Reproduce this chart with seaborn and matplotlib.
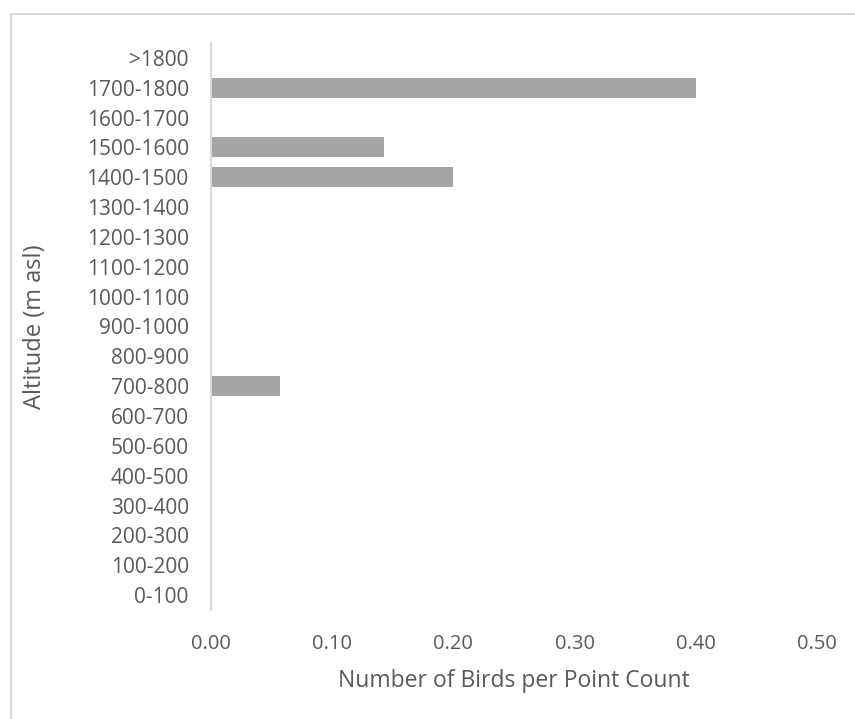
import matplotlib
matplotlib.use("Agg")
import matplotlib.pyplot as plt
import seaborn as sns
import pandas as pd

# altitude bands, bottom to top as drawn
altitude = ['0-100', '100-200', '200-300', '300-400', '400-500', '500-600',
            '600-700', '700-800', '800-900', '900-1000', '1000-1100',
            '1100-1200', '1200-1300', '1300-1400', '1400-1500', '1500-1600',
            '1600-1700', '1700-1800', '>1800']
birds = [0, 0, 0, 0, 0, 0, 0, 0.057, 0, 0, 0, 0, 0, 0, 0.20, 0.143, 0, 0.40, 0]
xticks = [0.0, 0.1, 0.2, 0.3, 0.4, 0.5]

# seaborn puts the first category at the top, so reverse
df = pd.DataFrame({'Altitude': altitude[::-1], 'Birds': birds[::-1]})

sns.set_style("white")
plt.rcParams['font.family'] = ['Open Sans', 'DejaVu Sans']
text_col = '#595959'

fig = plt.figure(figsize=(8.55, 7.19), dpi=100)
ax = fig.add_axes([211 / 855, 1 - 610 / 719, 606 / 855, 567 / 719])

sns.barplot(data=df, x='Birds', y='Altitude', color='#A5A5A5',
            saturation=1, width=0.67, ax=ax, edgecolor='none')

ax.set_xlim(0, 0.5)
ax.set_ylim(len(altitude) - 0.5, -0.5)
ax.set_xticks(xticks)
ax.set_xticklabels([f'{v:.2f}' for v in xticks])
ax.tick_params(axis='y', length=0, labelsize=15, colors=text_col, pad=16)
ax.tick_params(axis='x', length=0, labelsize=14.5, colors=text_col, pad=17)

for s in ['top', 'right', 'bottom']:
    ax.spines[s].set_visible(False)
ax.spines['left'].set_color('#D9D9D9')
ax.spines['left'].set_linewidth(1.5)

ax.set_xlabel('Number of Birds per Point Count', fontsize=16.5, color=text_col)
ax.set_ylabel('Altitude (m asl)', fontsize=17, color=text_col)
ax.xaxis.set_label_coords(0.5, -0.104)
ax.yaxis.set_label_coords(-0.27, 0.5)

# chart area border (only top and left visible in the crop)
fig.add_artist(plt.Line2D([11 / 855, 1], [1 - 14 / 719, 1 - 14 / 719], color='#D9D9D9', lw=1.5))
fig.add_artist(plt.Line2D([11 / 855, 11 / 855], [0, 1 - 14 / 719], color='#D9D9D9', lw=1.5))

fig.savefig('out.png', dpi=100)
